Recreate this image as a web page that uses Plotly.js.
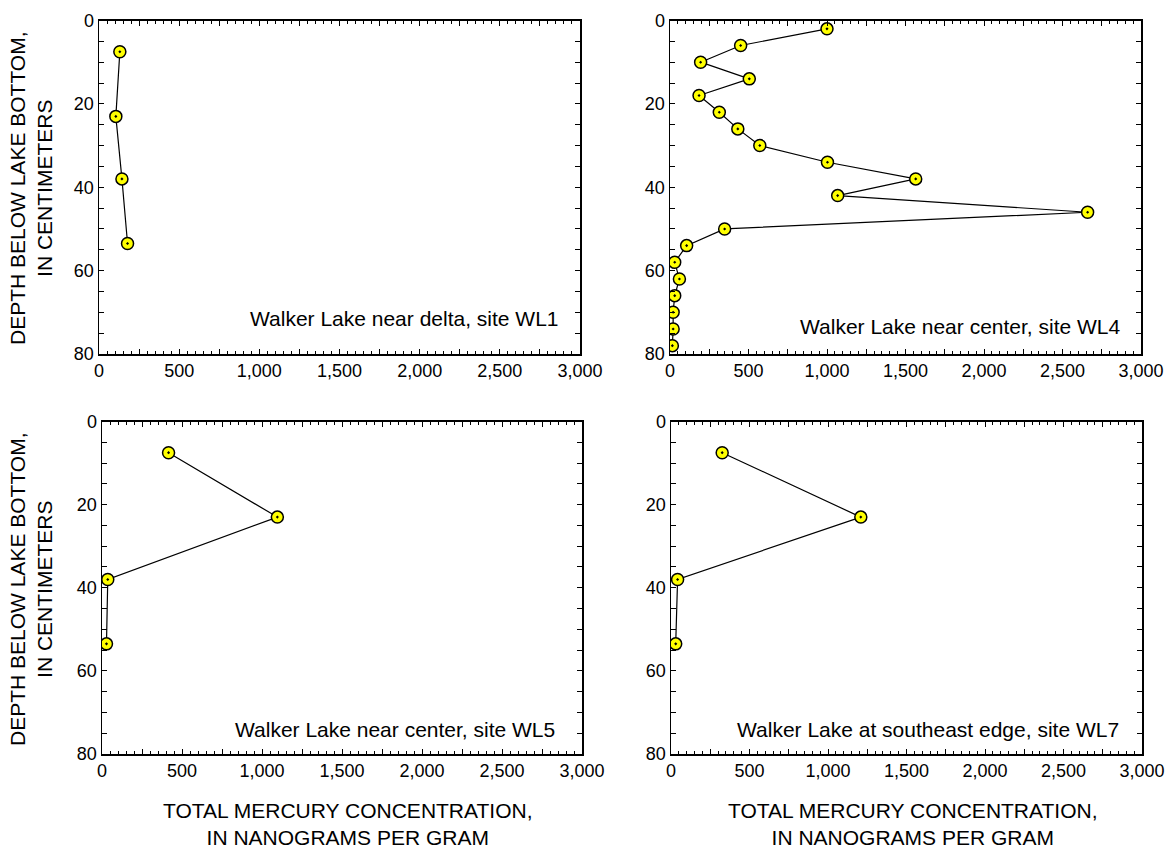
<!DOCTYPE html>
<html>
<head>
<meta charset="utf-8">
<script src="https://cdn.plot.ly/plotly-3.0.1.min.js"></script>
<style>html,body{margin:0;padding:0;background:#fff;}</style>
</head>
<body>
<div id="chart" style="width:1174px;height:850px;"></div>
<script>
// ---- Data (depth below lake bottom, cm; total mercury, ng/g) ----
const depthWL1 = [7.5, 23, 38, 53.5];
const mercuryWL1 = [130, 105, 143, 178];

const depthWL4 = [2, 6, 10, 14, 18, 22, 26, 30, 34, 38, 42, 46, 50, 54, 58, 62, 66, 70, 74, 78];
const mercuryWL4 = [1000, 450, 195, 505, 185, 314, 432, 572, 1003, 1565, 1068, 2660, 348, 106, 30, 60, 30, 20, 20, 15];

const depthWL5 = [7.5, 23, 38, 53.5];
const mercuryWL5 = [416, 1096, 36, 28];

const depthWL7 = [7.5, 23, 38, 53.5];
const mercuryWL7 = [326, 1209, 42, 30];

const siteLabels = [
  "Walker Lake near delta, site WL1",
  "Walker Lake near center, site WL4",
  "Walker Lake near center, site WL5",
  "Walker Lake at southeast edge, site WL7"
];

const xTickVals = [0, 250, 500, 750, 1000, 1250, 1500, 1750, 2000, 2250, 2500, 2750, 3000];
const xTickText = ["0", "", "500", "", "1,000", "", "1,500", "", "2,000", "", "2,500", "", "3,000"];
const yTickVals = [0, 5, 10, 15, 20, 25, 30, 35, 40, 45, 50, 55, 60, 65, 70, 75, 80];
const yTickText = ["0", "", "", "", "20", "", "", "", "40", "", "", "", "60", "", "", "", "80"];

const yTitle = "DEPTH BELOW LAKE BOTTOM,<br>IN CENTIMETERS";
const xTitle = "TOTAL MERCURY CONCENTRATION,<br>IN NANOGRAMS PER GRAM";

// ---- Layout helpers ----
const W = 1174, H = 850;
const FONT = "Liberation Sans, Arial, Helvetica, sans-serif";
const px = v => v / W;
const py = v => 1 - v / H;

function mkTrace(x, y, xa, ya) {
  return {
    x: x, y: y, xaxis: xa, yaxis: ya,
    type: "scatter", mode: "lines+markers",
    line: {color: "#000", width: 1.2},
    marker: {symbol: "circle-dot", size: 12, color: "#ffff00", line: {color: "#000", width: 1.5}},
    showlegend: false, hoverinfo: "x+y"
  };
}

function xAxis(domain, anchor) {
  return {
    domain: domain, anchor: anchor, range: [0, 3000],
    tickmode: "array", tickvals: xTickVals, ticktext: xTickText,
    ticks: "inside", ticklen: 5, tickwidth: 1, tickcolor: "#000",
    minor: {dtick: 50, tick0: 0, ticks: "inside", ticklen: 3, tickwidth: 1, tickcolor: "#000"},
    showline: true, linecolor: "#000", linewidth: 1.5, mirror: "ticks",
    showgrid: false, zeroline: false,
    tickfont: {family: FONT, size: 18, color: "#000"}
  };
}
function yAxis(domain, anchor) {
  return {
    domain: domain, anchor: anchor, range: [80, 0],
    tickmode: "array", tickvals: yTickVals, ticktext: yTickText,
    ticks: "inside", ticklen: 5, tickwidth: 1, tickcolor: "#000",
    showline: true, linecolor: "#000", linewidth: 1.5, mirror: "ticks",
    showgrid: false, zeroline: false,
    tickfont: {family: FONT, size: 18, color: "#000"}
  };
}

const xd1 = [px(99), px(580)], xd2 = [px(670), px(1141)];
const xd3 = [px(102), px(582)], xd4 = [px(671), px(1142)];
const ydTop = [py(354), py(20.5)], ydBot = [py(754), py(421.5)];

const data = [
  mkTrace(mercuryWL1, depthWL1, "x", "y"),
  mkTrace(mercuryWL4, depthWL4, "x2", "y2"),
  mkTrace(mercuryWL5, depthWL5, "x3", "y3"),
  mkTrace(mercuryWL7, depthWL7, "x4", "y4")
];

function label(text, xr, yc) {
  return {text: text, xref: "paper", yref: "paper", x: px(xr), y: py(yc),
    xanchor: "right", yanchor: "middle", showarrow: false,
    font: {family: FONT, size: 21, color: "#000"}};
}
function ytitle(yc) {
  return {text: yTitle, xref: "paper", yref: "paper", x: px(31), y: py(yc),
    xanchor: "center", yanchor: "middle", textangle: -90, showarrow: false,
    font: {family: FONT, size: 21, color: "#000"}};
}
function xtitle(xc) {
  return {text: xTitle, xref: "paper", yref: "paper", x: px(xc), y: py(824),
    xanchor: "center", yanchor: "middle", showarrow: false,
    font: {family: FONT, size: 21, color: "#000"}};
}

const layout = {
  width: W, height: H,
  margin: {l: 0, r: 0, t: 0, b: 0},
  paper_bgcolor: "#fff", plot_bgcolor: "#fff",
  showlegend: false,
  xaxis: xAxis(xd1, "y"), yaxis: yAxis(ydTop, "x"),
  xaxis2: xAxis(xd2, "y2"), yaxis2: yAxis(ydTop, "x2"),
  xaxis3: xAxis(xd3, "y3"), yaxis3: yAxis(ydBot, "x3"),
  xaxis4: xAxis(xd4, "y4"), yaxis4: yAxis(ydBot, "x4"),
  annotations: [
    label(siteLabels[0], 561, 318),
    label(siteLabels[1], 1123, 326.5),
    label(siteLabels[2], 557, 729),
    label(siteLabels[3], 1121, 729),
    ytitle(188), ytitle(589),
    xtitle(347), xtitle(912)
  ]
};

Plotly.newPlot("chart", data, layout, {displayModeBar: false, staticPlot: true});
</script>
</body>
</html>
